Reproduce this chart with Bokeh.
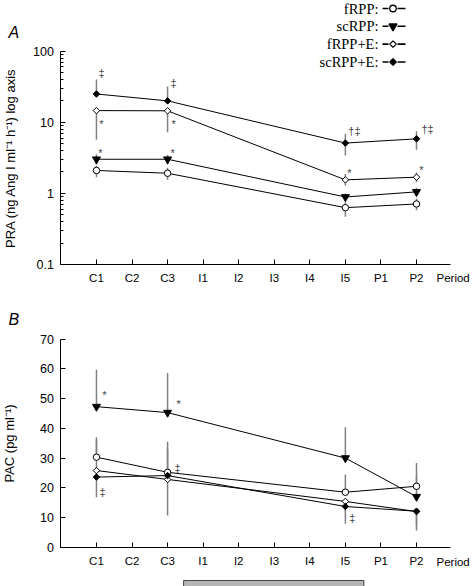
import math
from bokeh.plotting import figure
from bokeh.layouts import column
from bokeh.models import Range1d, FixedTicker, Label
from bokeh.core.properties import value
from bokeh.embed import file_html
from bokeh.resources import INLINE

# ---------------- data ----------------
PERIODS = ["C1", "C2", "C3", "I1", "I2", "I3", "I4", "I5", "P1", "P2"]
SAMPLED = ["C1", "C3", "I5", "P2"]
SERIES = ["fRPP", "scRPP", "fRPP+E", "scRPP+E"]
NAN = float("nan")

# Panel A: PRA (ng Ang I ml-1 h-1), log axis ; lo/hi = error bar ends
PRA_fRPP = [2.10, 1.92, 0.63, 0.71]
PRA_fRPP_lo = [1.68, 1.55, 0.47, 0.58]
PRA_fRPP_hi = [2.45, 2.30, 0.76, 0.85]
PRA_scRPP = [3.02, 3.02, 0.89, 1.05]
PRA_scRPP_lo = [2.55, 2.55, 0.78, 0.92]
PRA_scRPP_hi = [3.55, 3.50, 1.00, 1.20]
PRA_fRPPE = [14.6, 14.5, 1.55, 1.69]
PRA_fRPPE_lo = [5.66, 7.26, 1.29, 1.43]
PRA_fRPPE_hi = [NAN, NAN, 1.87, 1.97]
PRA_scRPPE = [25.0, 20.0, 5.1, 5.85]
PRA_scRPPE_lo = [NAN, NAN, 3.4, 4.1]
PRA_scRPPE_hi = [39.9, 31.8, 6.9, 7.5]

# Panel B: PAC (pg ml-1)
PAC_fRPP = [30.3, 25.2, 18.5, 20.5]
PAC_fRPP_lo = [NAN, NAN, NAN, NAN]
PAC_fRPP_hi = [37.0, 35.5, 24.5, 24.0]
PAC_scRPP = [47.3, 45.3, 30.0, 17.0]
PAC_scRPP_lo = [NAN, NAN, NAN, NAN]
PAC_scRPP_hi = [59.7, 58.6, 40.4, 28.3]
PAC_fRPPE = [25.8, 22.8, 15.4, 12.0]
PAC_fRPPE_lo = [NAN, 10.7, NAN, 7.0]
PAC_fRPPE_hi = [36.0, 33.0, NAN, NAN]
PAC_scRPPE = [23.6, 24.1, 13.7, 12.1]
PAC_scRPPE_lo = [16.8, NAN, 7.9, 5.6]
PAC_scRPPE_hi = [NAN, NAN, NAN, NAN]

# significance marks: (series, period, symbol)
PRA_MARKS = [("scRPP+E", "C1", "‡"), ("scRPP+E", "C3", "‡"),
             ("scRPP+E", "I5", "†‡"), ("scRPP+E", "P2", "†‡"),
             ("fRPP+E", "C1", "*"), ("fRPP+E", "C3", "*"),
             ("fRPP+E", "I5", "*"), ("fRPP+E", "P2", "*"),
             ("scRPP", "C1", "*"), ("scRPP", "C3", "*")]
PAC_MARKS = [("scRPP", "C1", "*"), ("scRPP", "C3", "*"),
             ("scRPP+E", "C1", "‡"), ("fRPP", "C3", "‡"),
             ("scRPP+E", "I5", "‡")]

INFUSION = (3.45, 8.52)   # infusion period, in period units

# ---------------- layout / style (picture pixel geometry) ----------------
FIG_W = 472
A_TOP, A_BOT = 0, 290          # picture y extent of figure A
B_TOP, B_BOT = 290, 586        # picture y extent of figure B
AXIS_X = 60.4                  # picture x of period 0 (y axes)
PX_PER_PERIOD = 35.56
AXIS_END = 10.96
A_AXIS_Y = 264.0               # picture y of 0.1 in A
PX_PER_DECADE = 71.11
B_AXIS_Y = 546.7               # picture y of 0 in B
PX_PER_UNIT_B = 208.0 / 70.0

SANS = "Liberation Sans"
SERIF = "Liberation Serif"
BAR_COLOR = "#808080"
MARK_COLOR = "#444444"

STYLE = {
    "fRPP": dict(marker="circle", size=6.5, fill_color="white", angle=0.0),
    "scRPP": dict(marker="inverted_triangle", size=8, fill_color="black", angle=0.0),
    "fRPP+E": dict(marker="square", size=4.6, fill_color="white", angle=math.pi / 4),
    "scRPP+E": dict(marker="square", size=4.6, fill_color="black", angle=math.pi / 4),
}

# pixel offsets of significance marks relative to their point
MARK_OFFSETS_A = {("scRPP+E", "C1"): (5, -21), ("scRPP+E", "C3"): (6, -18),
                  ("scRPP+E", "I5"): (9, -12), ("scRPP+E", "P2"): (11, -10),
                  ("fRPP+E", "C1"): (5, 13), ("fRPP+E", "C3"): (6, 13),
                  ("fRPP+E", "I5"): (4, -7), ("fRPP+E", "P2"): (5, -7),
                  ("scRPP", "C1"): (4, -6), ("scRPP", "C3"): (5, -6)}
MARK_OFFSETS_B = {("scRPP", "C1"): (8, -12), ("scRPP", "C3"): (11, -9),
                  ("scRPP+E", "C1"): (6, 15), ("fRPP", "C3"): (10, -4),
                  ("scRPP+E", "I5"): (7, 12)}


def xd(px):
    return (px - AXIS_X) / PX_PER_PERIOD


def ya(py):
    return 10 ** (-1 + (A_AXIS_Y - py) / PX_PER_DECADE)


def yb(py):
    return (B_AXIS_Y - py) / PX_PER_UNIT_B


def xpos(period):
    return PERIODS.index(period) + 1


def make_fig(top, bot, y_range, log=False):
    p = figure(x_range=Range1d(xd(0), xd(FIG_W)), y_range=y_range,
               y_axis_type="log" if log else "linear",
               frame_width=FIG_W, frame_height=bot - top,
               min_border_left=0, min_border_right=0, min_border_top=0, min_border_bottom=0,
               toolbar_location=None, output_backend="svg", outline_line_color=None)
    p.grid.visible = False
    for ax in p.axis:
        ax.axis_line_color = "black"
        ax.axis_line_width = 1
        ax.major_tick_line_color = "black"
        ax.major_tick_in = 5
        ax.major_tick_out = 0
        ax.minor_tick_in = 0
        ax.minor_tick_out = 0
        ax.major_label_text_font = SANS
        ax.major_label_text_font_size = "11.5px"
        ax.major_label_text_color = "black"
        ax.axis_label_text_font = SANS
        ax.axis_label_text_font_size = "13px"
        ax.axis_label_text_font_style = "normal"
        ax.axis_label_text_color = "black"
    xa = p.xaxis[0]
    xa.ticker = FixedTicker(ticks=list(range(1, len(PERIODS) + 1)))
    xa.major_label_overrides = {i + 1: n for i, n in enumerate(PERIODS)}
    xa.bounds = (0, AXIS_END)
    xa.major_label_standoff = 7
    yax = p.yaxis[0]
    yax.fixed_location = 0
    yax.major_label_text_font_size = "12.5px"
    yax.major_label_standoff = 7
    return p


def draw_series(p, data, marks, offsets):
    xs = [xpos(c) for c in SAMPLED]
    for name in SERIES:
        vals, lo, hi = data[name]
        x0, y0, x1, y1 = [], [], [], []
        for x, v, l, h in zip(xs, vals, lo, hi):
            for end in (l, h):
                if not math.isnan(end):
                    x0.append(x); y0.append(v); x1.append(x); y1.append(end)
        p.segment(x0=x0, y0=y0, x1=x1, y1=y1, line_color=BAR_COLOR, line_width=1.5)
    for name in SERIES:
        p.line(xs, data[name][0], line_color="black", line_width=1)
    for name in SERIES:
        st = STYLE[name]
        p.scatter(xs, data[name][0], marker=st["marker"], size=st["size"], angle=st["angle"],
                  fill_color=st["fill_color"], line_color="black", line_width=1)
    for name, per, sym in marks:
        v = data[name][0][SAMPLED.index(per)]
        dx, dy = offsets[(name, per)]
        p.text([xpos(per)], [v], text=[sym], x_offset=dx, y_offset=dy,
               text_align="center", text_baseline="middle",
               text_font=value(SANS), text_font_size="11px", text_color=MARK_COLOR)


def label(p, x, y, text, **kw):
    opts = dict(text_font=SANS, text_font_size="11.5px", text_color="black",
                text_baseline="middle", text_align="left")
    opts.update(kw)
    p.add_layout(Label(x=x, y=y, text=text, **opts))


# ---------------- panel A ----------------
pa = make_fig(A_TOP, A_BOT, Range1d(ya(A_BOT), ya(A_TOP)), log=True)
pa.xaxis[0].fixed_location = 0.1
ya_ax = pa.yaxis[0]
ya_ax.ticker = FixedTicker(ticks=[0.1, 1, 10, 100],
                           minor_ticks=[m * 10 ** e for e in (-1, 0, 1) for m in range(2, 10)])
ya_ax.major_label_overrides = {0.1: "0.1", 1: "1", 10: "10", 100: "100"}
ya_ax.bounds = (0.1, 100)
ya_ax.minor_tick_in = 3
ya_ax.minor_tick_line_color = "black"
ya_ax.axis_label = "PRA (ng Ang I ml\u207b\u00b9 h\u207b\u00b9) log axis"
ya_ax.axis_label_standoff = 12

data_a = {"fRPP": (PRA_fRPP, PRA_fRPP_lo, PRA_fRPP_hi),
          "scRPP": (PRA_scRPP, PRA_scRPP_lo, PRA_scRPP_hi),
          "fRPP+E": (PRA_fRPPE, PRA_fRPPE_lo, PRA_fRPPE_hi),
          "scRPP+E": (PRA_scRPPE, PRA_scRPPE_lo, PRA_scRPPE_hi)}
draw_series(pa, data_a, PRA_MARKS, MARK_OFFSETS_A)

LEG_ROWS = [8, 25.8, 43.6, 61.5]
for name, py in zip(SERIES, LEG_ROWS):
    yv = ya(py)
    label(pa, xd(378), yv, name + ":", text_align="right", text_font=SERIF,
          text_font_size="14.5px")
    pa.segment(x0=[xd(382), xd(397)], y0=[yv, yv], x1=[xd(388), xd(405)], y1=[yv, yv],
               line_color="black", line_width=1.6)
    st = STYLE[name]
    pa.scatter([xd(392.5)], [yv], marker=st["marker"], size=st["size"], angle=st["angle"],
               fill_color=st["fill_color"], line_color="black", line_width=1.3)

label(pa, xd(8), ya(32), "A", text_font_size="16px", text_font_style="italic")
label(pa, xd(436), ya(271), "Period", text_baseline="top")

# ---------------- panel B ----------------
pb = make_fig(B_TOP, B_BOT, Range1d(yb(B_BOT), yb(B_TOP)))
pb.xaxis[0].fixed_location = 0
pb.xaxis[0].major_label_standoff = 8
yb_ax = pb.yaxis[0]
yb_ax.ticker = FixedTicker(ticks=list(range(0, 71, 10)))
yb_ax.bounds = (0, 70)
yb_ax.axis_label = "PAC (pg ml\u207b\u00b9)"
yb_ax.axis_label_standoff = 20

data_b = {"fRPP": (PAC_fRPP, PAC_fRPP_lo, PAC_fRPP_hi),
          "scRPP": (PAC_scRPP, PAC_scRPP_lo, PAC_scRPP_hi),
          "fRPP+E": (PAC_fRPPE, PAC_fRPPE_lo, PAC_fRPPE_hi),
          "scRPP+E": (PAC_scRPPE, PAC_scRPPE_lo, PAC_scRPPE_hi)}
draw_series(pb, data_b, PAC_MARKS, MARK_OFFSETS_B)

label(pb, xd(8), yb(319), "B", text_font_size="16px", text_font_style="italic")
label(pb, xd(436), yb(555), "Period", text_baseline="top")

# infusion bar below panel B
pb.quad(left=[INFUSION[0]], right=[INFUSION[1]], bottom=[yb(B_BOT + 10)], top=[yb(580)],
        fill_color="#b5b5b5", line_color="#444444", line_width=1)

layout = column(pa, pb, spacing=0)
open("out.html", "w").write(file_html(layout, INLINE))
